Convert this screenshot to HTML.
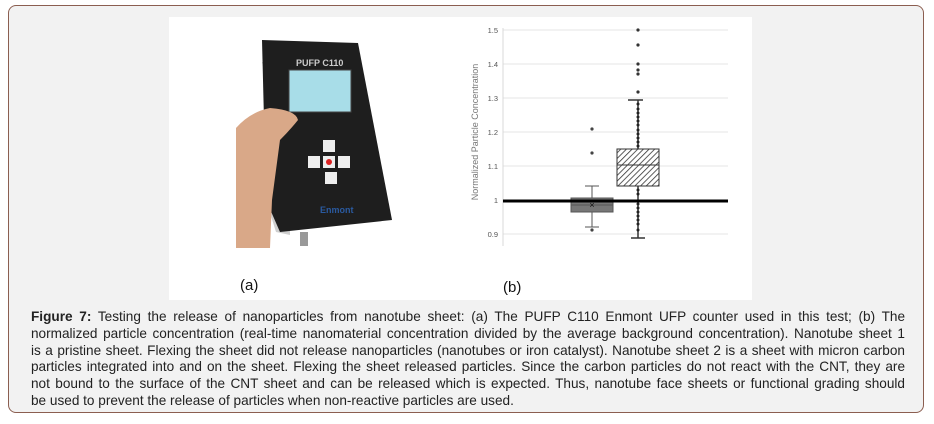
<!DOCTYPE html>
<html><head><style>
body{margin:0;width:934px;height:424px;background:#fff;overflow:hidden;font-family:"Liberation Sans",Arial,sans-serif}
.box{position:absolute;left:8px;top:5px;width:916px;height:408px;background:#f2f2f2;border:1px solid #8b5e50;border-radius:8px;box-sizing:border-box}
.img{position:absolute;left:169px;top:17px;width:583px;height:283px;background:#fff}
.cap{position:absolute;left:31px;top:309px;width:874px;font-size:13.6px;line-height:16.8px;color:#222}
.cap div{white-space:nowrap;text-align:justify;text-align-last:justify}
.cap div.l{text-align-last:left}
</style></head><body>
<div class="box"></div>
<div class="img"></div>
<svg style="position:absolute;left:0;top:0" width="934" height="424">
<path d="M262 62 L266 82 L266 200 L276 232 L290 235 L290 62Z" fill="#cfcfcf"/>
<polygon points="262,40 358,43 392,220 280,232 266,200" fill="#1e1e1e"/>
<rect x="289" y="70" width="62" height="42" fill="#a8dde8" stroke="#444"/>
<text x="296" y="66" font-size="9" fill="#ccc" font-weight="bold">PUFP C110</text>
<g fill="#eee"><rect x="323" y="140" width="12" height="12"/><rect x="308" y="156" width="12" height="12"/><rect x="323" y="156" width="12" height="12"/><rect x="338" y="156" width="12" height="12"/><rect x="325" y="172" width="12" height="12"/></g>
<circle cx="329" cy="162" r="3" fill="#d22"/>
<text x="320" y="213" font-size="9" fill="#2a5aa0" font-weight="bold">Enmont</text>
<path d="M236 128 Q250 112 270 108 Q296 110 298 120 Q290 130 280 140 L272 200 L270 248 L236 248Z" fill="#d9a888"/>
<rect x="300" y="232" width="8" height="14" fill="#999"/>
<text x="240" y="290" font-size="15" fill="#111">(a)</text>
<text x="503" y="292" font-size="15" fill="#111">(b)</text>
<g stroke="#e4e4e4" stroke-width="1">
<line x1="503" x2="728" y1="30" y2="30"/><line x1="503" x2="728" y1="64" y2="64"/><line x1="503" x2="728" y1="98" y2="98"/><line x1="503" x2="728" y1="132" y2="132"/><line x1="503" x2="728" y1="166" y2="166"/><line x1="503" x2="728" y1="234" y2="234"/>
</g>
<line x1="503" x2="503" y1="28" y2="246" stroke="#d8d8d8"/>
<g font-size="7.5" fill="#555" text-anchor="end">
<text x="498" y="33">1.5</text><text x="498" y="67">1.4</text><text x="498" y="101">1.3</text><text x="498" y="135">1.2</text><text x="498" y="169">1.1</text><text x="498" y="203">1</text><text x="498" y="237">0.9</text>
</g>
<text transform="translate(478,132) rotate(-90)" font-size="9" fill="#777" text-anchor="middle">Normalized Particle Concentration</text>
<defs><pattern id="h" width="4" height="4" patternUnits="userSpaceOnUse" patternTransform="rotate(45)"><rect width="4" height="4" fill="#fff"/><line x1="0" y1="0" x2="0" y2="4" stroke="#333" stroke-width="1.6"/></pattern></defs>
<g stroke="#555" stroke-width="1">
<line x1="592" x2="592" y1="186" y2="227"/><line x1="585" x2="599" y1="186" y2="186"/><line x1="585" x2="599" y1="227" y2="227"/>
<rect x="571" y="198" width="42" height="14" fill="#777"/><line x1="571" x2="613" y1="205" y2="205"/>
</g>
<text x="592" y="208" font-size="9" text-anchor="middle" fill="#111">×</text>
<g fill="#444"><circle cx="592" cy="129" r="1.6"/><circle cx="592" cy="153" r="1.6"/><circle cx="592" cy="230" r="1.6"/></g>
<g stroke="#333" stroke-width="1">
<line x1="638" x2="638" y1="100" y2="238" stroke-width="1.5"/><line x1="628" x2="643" y1="100" y2="100" stroke-width="1.5"/><line x1="631" x2="645" y1="238" y2="238" stroke-width="1.5"/>
<rect x="617" y="149" width="42" height="37" fill="url(#h)"/><line x1="617" x2="659" y1="165" y2="165"/>
</g>
<g fill="#333">
<circle cx="638" cy="30" r="1.6"/><circle cx="638" cy="45" r="1.6"/><circle cx="638" cy="64" r="1.6"/><circle cx="638" cy="70" r="1.6"/><circle cx="638" cy="74" r="1.6"/><circle cx="638" cy="92" r="1.6"/>
</g>
<g fill="#222">
<circle cx="638" cy="104" r="1.5"/><circle cx="638" cy="109" r="1.5"/><circle cx="638" cy="113" r="1.5"/><circle cx="638" cy="117" r="1.5"/><circle cx="638" cy="121" r="1.5"/><circle cx="638" cy="125" r="1.5"/><circle cx="638" cy="130" r="1.5"/><circle cx="638" cy="134" r="1.5"/><circle cx="638" cy="138" r="1.5"/><circle cx="638" cy="142" r="1.5"/><circle cx="638" cy="146" r="1.5"/><circle cx="638" cy="190" r="1.5"/><circle cx="638" cy="194" r="1.5"/><circle cx="638" cy="204" r="1.5"/><circle cx="638" cy="208" r="1.5"/><circle cx="638" cy="212" r="1.5"/><circle cx="638" cy="216" r="1.5"/><circle cx="638" cy="220" r="1.5"/><circle cx="638" cy="224" r="1.5"/><circle cx="638" cy="230" r="1.5"/>
</g>
<line x1="503" x2="728" y1="201" y2="201" stroke="#000" stroke-width="3"/>
</svg>
<div class="cap">
<div><b>Figure 7:</b> Testing the release of nanoparticles from nanotube sheet: (a) The PUFP C110 Enmont UFP counter used in this test; (b) The</div>
<div>normalized particle concentration (real-time nanomaterial concentration divided by the average background concentration). Nanotube sheet 1</div>
<div>is a pristine sheet. Flexing the sheet did not release nanoparticles (nanotubes or iron catalyst). Nanotube sheet 2 is a sheet with micron carbon</div>
<div>particles integrated into and on the sheet. Flexing the sheet released particles. Since the carbon particles do not react with the CNT, they are</div>
<div>not bound to the surface of the CNT sheet and can be released which is expected. Thus, nanotube face sheets or functional grading should</div>
<div class="l">be used to prevent the release of particles when non-reactive particles are used.</div>
</div>
</body></html>
